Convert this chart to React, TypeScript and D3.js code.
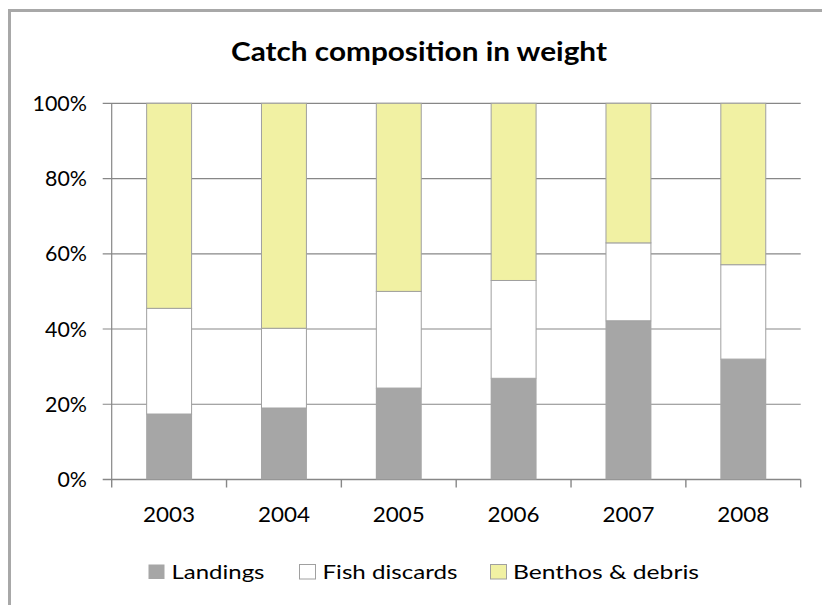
import React from "react";
import * as d3 from "d3";

const years = ["2003", "2004", "2005", "2006", "2007", "2008"];
const landings = [17.4, 19.0, 24.3, 26.9, 42.2, 32.0];
const fishDiscards = [28.1, 21.2, 25.7, 26.0, 20.7, 25.1];
const benthosDebris = [54.5, 59.8, 50.0, 47.1, 37.1, 42.9];
const yTicks = [0, 20, 40, 60, 80, 100];
const seriesNames = ["Landings", "Fish discards", "Benthos & debris"];
const seriesColors = ["#a6a6a6", "#ffffff", "#f1f1a3"];
const seriesStrokes = ["none", "#a0a0a0", "#a0a0a0"];

const W = 822;
const H = 605;
const FONT = "Lato, 'Open Sans', sans-serif";

export default function App() {
  const x = d3.scaleBand<string>().domain(years).range([111.7, 800.7]).paddingInner(0.6).paddingOuter(0.3);
  const y = d3.scaleLinear().domain([0, 100]).range([479.5, 103.3]);
  const step = x.step();
  const left = 111.7;
  const right = 800.7;

  const table = years.map((yr, i) => ({
    year: yr,
    Landings: landings[i],
    "Fish discards": fishDiscards[i],
    "Benthos & debris": benthosDebris[i],
  }));
  const stacked = d3.stack<any>().keys(seriesNames)(table);

  const boundaries = d3.range(years.length + 1).map((i) => left + i * step * (689 / (step * 6)));

  const legendItems = [
    { sq: 148, tx: 171.5, tl: 93 },
    { sq: 299, tx: 322.5, tl: 135 },
    { sq: 490, tx: 513, tl: 186 },
  ];

  const pctWidth = (t: number) => String(t).length * 12.5 + 17;

  return (
    <svg width={W} height={H} style={{ position: "absolute", left: 0, top: 0, background: "#fff" }}>
      <rect x={0} y={0} width={W} height={H} fill="#fff" />
      {/* outer border (only top and left visible) */}
      <line x1={9.5} y1={10.5} x2={W + 5} y2={10.5} stroke="#a8a8a8" strokeWidth={3} />
      <line x1={9.5} y1={9} x2={9.5} y2={H + 5} stroke="#a8a8a8" strokeWidth={3} />

      {/* title */}
      <text
        x={231}
        y={61}
        fontFamily={FONT}
        fontWeight="bold"
        fontSize={27.5}
        textLength={376}
        lengthAdjust="spacingAndGlyphs"
        fill="#000"
      >
        Catch composition in weight
      </text>

      {/* gridlines */}
      {yTicks.map((t) => (
        <g key={t}>
          <line x1={left - 9} x2={right} y1={y(t)} y2={y(t)} stroke="#878787" strokeWidth={t === 0 ? 1.6 : 1.2} />
          <text
            x={87}
            y={y(t) + 7.5}
            textAnchor="end"
            fontFamily={FONT}
            fontSize={21}
            textLength={pctWidth(t)}
            lengthAdjust="spacingAndGlyphs"
            fill="#000"
          >
            {t}%
          </text>
        </g>
      ))}

      {/* y axis */}
      <line x1={left} x2={left} y1={y(100)} y2={y(0)} stroke="#878787" strokeWidth={1.2} />

      {/* x tick marks */}
      {boundaries.map((bx, i) => (
        <line key={i} x1={bx} x2={bx} y1={y(0)} y2={y(0) + 8} stroke="#878787" strokeWidth={1.4} />
      ))}

      {/* bars */}
      {stacked.map((s, si) => (
        <g key={seriesNames[si]}>
          {s.map((d, i) => (
            <rect
              key={i}
              x={(x(years[i]) as number) + (si === 0 ? 0 : 0.5)}
              width={x.bandwidth() - (si === 0 ? 0 : 1)}
              y={y(d[1])}
              height={y(d[0]) - y(d[1])}
              fill={seriesColors[si]}
              stroke={seriesStrokes[si]}
              strokeWidth={1}
            />
          ))}
        </g>
      ))}

      {/* x labels */}
      {years.map((yr) => (
        <text
          key={yr}
          x={(x(yr) as number) + x.bandwidth() / 2}
          y={522}
          textAnchor="middle"
          fontFamily={FONT}
          fontSize={21}
          textLength={52}
          lengthAdjust="spacingAndGlyphs"
          fill="#000"
        >
          {yr}
        </text>
      ))}

      {/* legend */}
      {seriesNames.map((name, i) => (
        <g key={name}>
          <rect
            x={legendItems[i].sq + 0.5}
            y={564.5}
            width={16}
            height={14.5}
            fill={seriesColors[i]}
            stroke={i === 0 ? "none" : "#a0a0a0"}
            strokeWidth={1}
          />
          <text
            x={legendItems[i].tx}
            y={579}
            fontFamily={FONT}
            fontSize={20}
            textLength={legendItems[i].tl}
            lengthAdjust="spacingAndGlyphs"
            fill="#000"
          >
            {name}
          </text>
        </g>
      ))}
    </svg>
  );
}
